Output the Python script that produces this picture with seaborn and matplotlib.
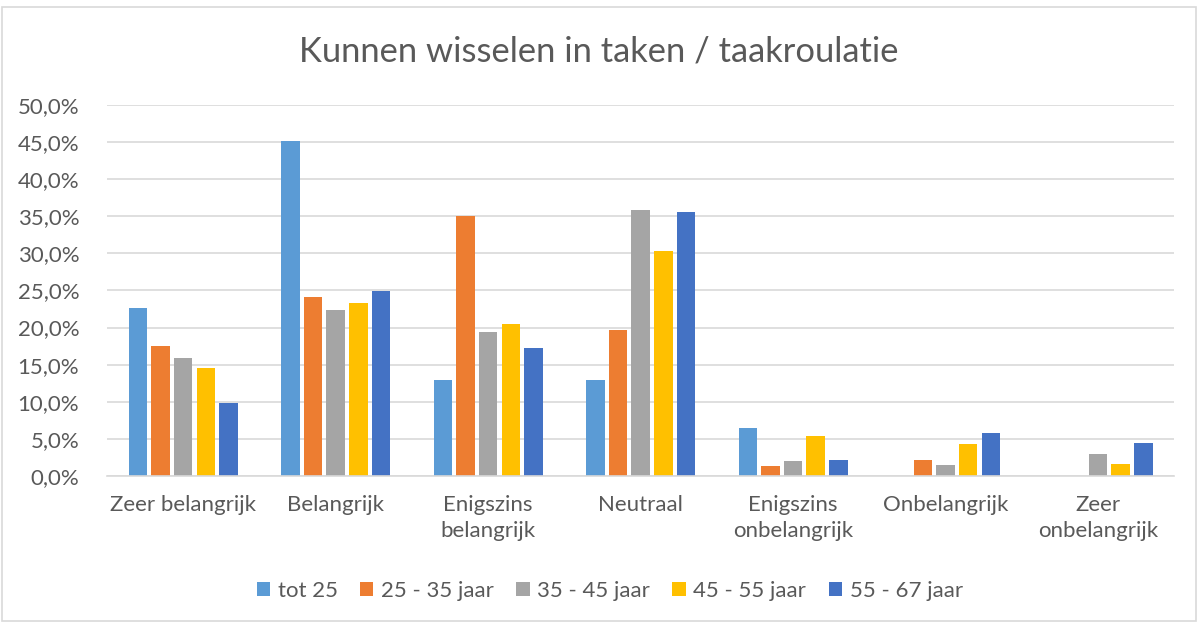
import matplotlib
matplotlib.use("Agg")
import matplotlib.pyplot as plt
import seaborn as sns
import pandas as pd
from matplotlib.ticker import FuncFormatter, MultipleLocator
from matplotlib.patches import Rectangle

categories = ["Zeer belangrijk", "Belangrijk", "Enigszins\nbelangrijk", "Neutraal",
              "Enigszins\nonbelangrijk", "Onbelangrijk", "Zeer\nonbelangrijk"]
series_names = ["tot 25", "25 - 35 jaar", "35 - 45 jaar", "45 - 55 jaar", "55 - 67 jaar"]
tot25 = [22.6, 45.1, 12.9, 12.9, 6.4, 0.0, 0.0]
j25_35 = [17.5, 24.1, 35.1, 19.7, 1.4, 2.2, 0.0]
j35_45 = [15.9, 22.4, 19.4, 35.9, 2.0, 1.5, 3.0]
j45_55 = [14.6, 23.3, 20.5, 30.3, 5.4, 4.3, 1.6]
j55_67 = [9.8, 24.9, 17.3, 35.6, 2.2, 5.8, 4.5]
colors = ["#5B9BD5", "#ED7D31", "#A5A5A5", "#FFC000", "#4472C4"]

rows = []
for name, vals in zip(series_names, [tot25, j25_35, j35_45, j45_55, j55_67]):
    for c, v in zip(categories, vals):
        rows.append({"cat": c, "serie": name, "val": v})
df = pd.DataFrame(rows)

sns.set_theme(style="white")
plt.rcParams["font.family"] = ["Lato", "DejaVu Sans"]
text_color = "#595959"

fig = plt.figure(figsize=(11.98, 6.23), dpi=100)
ax = fig.add_axes([0.0893, 0.236, 0.891, 0.5955])
sns.barplot(data=df, x="cat", y="val", hue="serie", order=categories,
            hue_order=series_names, palette=colors, width=0.74, gap=0.18,
            saturation=1, linewidth=0, ax=ax)

ax.set_ylim(0, 50)
ax.set_xlim(-0.5, len(categories) - 0.5)
ax.yaxis.set_major_locator(MultipleLocator(5))
ax.yaxis.set_major_formatter(FuncFormatter(lambda v, p: f"{v:.1f}%".replace(".", ",")))
ax.grid(axis="y", color="#D9D9D9", linewidth=1.2)
ax.set_axisbelow(True)
for s in ["left", "right", "top"]:
    ax.spines[s].set_visible(False)
ax.spines["bottom"].set_color("#D9D9D9")
ax.spines["bottom"].set_linewidth(1.2)
ax.tick_params(axis="both", length=0, labelsize=16, colors=text_color)
ax.tick_params(axis="y", pad=20)
ax.tick_params(axis="x", pad=14)
for lbl in ax.get_xticklabels():
    lbl.set_linespacing(1.35)
ax.set_xlabel("")
ax.set_ylabel("")

leg = ax.legend(loc="center", bbox_to_anchor=(0.471, -0.31), ncol=5, frameon=False,
                fontsize=16, handlelength=0.6, handleheight=0.6, handletextpad=0.35,
                columnspacing=1.0, labelcolor=text_color)

fig.text(0.5, 0.918, "Kunnen wisselen in taken / taakroulatie", ha="center", va="center",
         fontsize=24.8, color=text_color)

fig.patches.append(Rectangle((0.002, 0.003), 0.996, 0.985, transform=fig.transFigure,
                             fill=False, edgecolor="#D9D9D9", linewidth=1.2))

fig.savefig("out.png", dpi=100)
